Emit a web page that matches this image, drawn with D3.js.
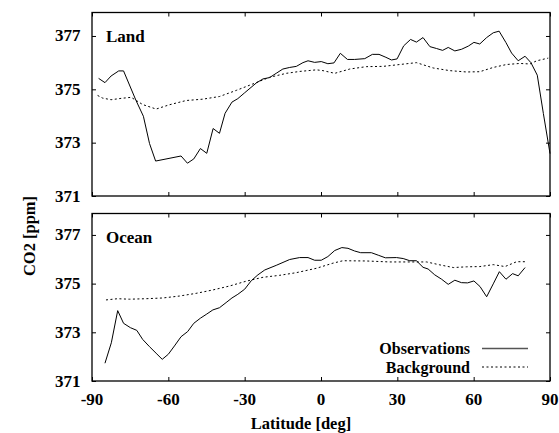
<!DOCTYPE html>
<html>
<head>
<meta charset="utf-8">
<script src="https://cdn.jsdelivr.net/npm/d3@7"></script>
<style>
  body { margin: 0; background: #fff; }
  text { font-family: "Liberation Serif", "Times New Roman", serif; font-weight: bold; }
</style>
</head>
<body>
<div id="chart"></div>
<script>
// CO2 by latitude, land and ocean panels

const xTicks = [-90, -60, -30, 0, 30, 60, 90];
const yTicks = [371, 373, 375, 377];

const landObs = [
  [-87.4, 375.41], [-84.9, 375.25], [-82.5, 375.5], [-79.5, 375.69], [-77.6, 375.69],
  [-72.7, 374.58], [-69.8, 373.99], [-67.4, 372.97], [-65, 372.31], [-55, 372.5],
  [-52.5, 372.23], [-50, 372.39], [-47.4, 372.78], [-44.9, 372.6], [-42.4, 373.53],
  [-39.9, 373.35], [-37.7, 374.1], [-35, 374.52], [-32.7, 374.65], [-30, 374.87],
  [-25.4, 375.24], [-22.8, 375.39], [-20.2, 375.44], [-17.6, 375.6], [-15, 375.76],
  [-12.3, 375.82], [-9.7, 375.86], [-7.1, 376.0], [-5.1, 376.07], [-2.5, 376.01],
  [0.1, 376.04], [2.7, 375.96], [5.1, 375.99], [7.6, 376.35], [10.4, 376.12],
  [13.2, 376.12], [17.2, 376.15], [20.2, 376.31], [22.8, 376.31], [25.5, 376.2],
  [27.7, 376.1], [29.9, 376.14], [32.5, 376.63], [35.2, 376.87], [37.5, 376.77],
  [40.1, 376.94], [42.8, 376.6], [45.4, 376.53], [47.8, 376.46], [50, 376.57],
  [52.6, 376.44], [55.2, 376.5], [57.9, 376.62], [60.1, 376.76], [62.4, 376.7],
  [65.1, 376.94], [67.7, 377.12], [70, 377.18], [72.7, 376.75], [74.9, 376.36],
  [77.5, 376.07], [80.2, 376.24], [82.5, 376.0], [85, 375.53], [87.4, 374.09],
  [90, 372.59]
];

const landBg = [
  [-87.8, 374.77], [-85.8, 374.67], [-82.5, 374.61], [-78.6, 374.66], [-74.6, 374.7],
  [-70.1, 374.43], [-64.8, 374.26], [-59.6, 374.42], [-53, 374.58], [-46.5, 374.63],
  [-39.9, 374.73], [-33.3, 374.96], [-26.8, 375.2], [-20.2, 375.45], [-13.6, 375.6],
  [-8.4, 375.67], [-1.8, 375.73], [0.8, 375.7], [5.4, 375.6], [11.3, 375.76],
  [17.8, 375.85], [24.4, 375.86], [31, 375.93], [37.5, 376.0], [44.1, 375.8],
  [50.6, 375.7], [57.2, 375.65], [62.4, 375.66], [67.7, 375.82], [72.9, 375.93],
  [78.2, 375.97], [82.1, 375.95], [84.8, 376.07], [89.3, 376.17]
];

const oceanObs = [
  [-84.9, 371.73], [-82.4, 372.57], [-79.9, 373.89], [-77.6, 373.37], [-74.9, 373.19],
  [-72.4, 373.08], [-70.1, 372.71], [-67.4, 372.41], [-64.8, 372.14], [-62.4, 371.89],
  [-60, 372.1], [-57.6, 372.44], [-55, 372.82], [-52.4, 373.03], [-50, 373.37],
  [-47.4, 373.58], [-44.9, 373.75], [-42.5, 373.92], [-39.9, 374.01], [-37.3, 374.22],
  [-35, 374.41], [-32.7, 374.56], [-30, 374.77], [-27.4, 375.12], [-24.8, 375.36],
  [-22.1, 375.56], [-17.6, 375.75], [-12.3, 375.99], [-8.4, 376.07], [-5.1, 376.07],
  [-2.5, 375.96], [0.1, 375.96], [2.7, 376.11], [5.4, 376.36], [8.2, 376.48],
  [10.6, 376.45], [13.2, 376.34], [15.6, 376.27], [19.8, 376.27], [22.7, 376.16],
  [25.3, 376.06], [29.7, 376.07], [32.3, 376.03], [34.9, 375.94], [37.5, 375.94],
  [40.1, 375.67], [42.1, 375.6], [44.7, 375.36], [47.4, 375.18], [50, 374.97],
  [52.6, 375.14], [55.2, 375.04], [57.6, 375.03], [60.1, 375.11], [62.5, 374.88],
  [65.1, 374.46], [67.7, 374.99], [70.1, 375.49], [72.7, 375.18], [75.3, 375.41],
  [77.5, 375.32], [80.2, 375.66]
];

const oceanBg = [
  [-84.5, 374.33], [-79.9, 374.38], [-75.3, 374.36], [-68.8, 374.38], [-62.2, 374.41],
  [-55.6, 374.49], [-49.1, 374.6], [-42.5, 374.74], [-36, 374.9], [-29.4, 375.1],
  [-22.8, 375.26], [-16.3, 375.34], [-9.7, 375.45], [-1.8, 375.63], [4.7, 375.84],
  [8.6, 375.94], [17.8, 375.93], [27, 375.89], [34.9, 375.89], [41.5, 375.89],
  [46.7, 375.77], [52, 375.66], [57.2, 375.69], [62.4, 375.7], [67.7, 375.78],
  [72.3, 375.7], [76.9, 375.9], [80.2, 375.9]
];

const panels = [
  { name: "Land", obs: landObs, bg: landBg, top: 12.5, bottom: 196 },
  { name: "Ocean", obs: oceanObs, bg: oceanBg, top: 213.5, bottom: 381 }
];

const W = 559, H = 433;
const left = 92, right = 550;
const fs = 17;

const svg = d3.select("#chart").append("svg")
  .attr("width", W)
  .attr("height", H);

const x = d3.scaleLinear().domain([-90, 90]).range([left, right]);

panels.forEach((p, i) => {
  const y = d3.scaleLinear().domain([371, 377.88]).range([p.bottom, p.top]);
  const g = svg.append("g");

  // inward ticks on all four sides
  const tk = 4;
  g.append("g").attr("transform", `translate(0,${p.bottom})`)
    .call(d3.axisTop(x).tickValues(xTicks).tickSize(tk).tickFormat(""));
  g.append("g").attr("transform", `translate(0,${p.top})`)
    .call(d3.axisBottom(x).tickValues(xTicks).tickSize(tk).tickFormat(""));
  g.append("g").attr("transform", `translate(${left},0)`)
    .call(d3.axisRight(y).tickValues(yTicks).tickSize(tk).tickFormat(""));
  g.append("g").attr("transform", `translate(${right},0)`)
    .call(d3.axisLeft(y).tickValues(yTicks).tickSize(tk).tickFormat(""));
  g.selectAll(".domain").remove();
  g.selectAll(".tick line").attr("stroke", "#000").attr("stroke-width", 1);

  g.append("rect")
    .attr("x", left).attr("y", p.top)
    .attr("width", right - left).attr("height", p.bottom - p.top)
    .attr("fill", "none").attr("stroke", "#000").attr("stroke-width", 1.3);

  // y tick labels
  g.selectAll(".ylab").data(yTicks).enter().append("text")
    .attr("x", 80.5)
    .attr("y", d => y(d) + 5.5)
    .attr("text-anchor", "end")
    .attr("font-size", fs)
    .text(d => d);

  const line = d3.line().x(d => x(d[0])).y(d => y(d[1]));

  g.append("path").datum(p.bg)
    .attr("d", line)
    .attr("fill", "none").attr("stroke", "#000")
    .attr("stroke-width", 1).attr("stroke-dasharray", "2,2.5");

  g.append("path").datum(p.obs)
    .attr("d", line)
    .attr("fill", "none").attr("stroke", "#000")
    .attr("stroke-width", 1);

  g.append("text")
    .attr("x", 106).attr("y", p.top + 29)
    .attr("font-size", fs)
    .text(p.name);
});

// x tick labels
svg.selectAll(".xlab").data(xTicks).enter().append("text")
  .attr("x", d => x(d))
  .attr("y", 405)
  .attr("text-anchor", "middle")
  .attr("font-size", fs)
  .text(d => d);

svg.append("text")
  .attr("x", 301).attr("y", 429)
  .attr("text-anchor", "middle")
  .attr("font-size", 16.5)
  .text("Latitude [deg]");

svg.append("text")
  .attr("transform", "translate(35,236) rotate(-90)")
  .attr("text-anchor", "middle")
  .attr("font-size", 16.5)
  .text("CO2 [ppm]");

// legend
const legend = [
  { label: "Observations", dash: null, y: 348.5, color: "#555", w: 1.6 },
  { label: "Background", dash: "2,2.5", y: 367, color: "#000", w: 1 }
];
legend.forEach(l => {
  svg.append("text")
    .attr("x", 470).attr("y", l.y + 5.5)
    .attr("text-anchor", "end")
    .attr("font-size", 16)
    .text(l.label);
  svg.append("line")
    .attr("x1", 482).attr("x2", 528)
    .attr("y1", l.y).attr("y2", l.y)
    .attr("stroke", l.color).attr("stroke-width", l.w)
    .attr("stroke-dasharray", l.dash);
});
</script>
</body>
</html>
